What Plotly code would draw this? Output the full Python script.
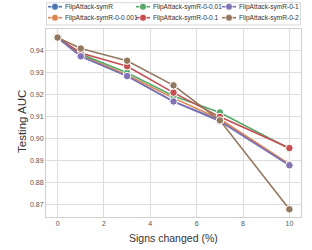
import plotly.graph_objects as go

signs_changed = [0, 1, 3, 5, 7, 10]
series_names = [
    "FlipAttack-symR",
    "FlipAttack-symR-0-0.001",
    "FlipAttack-symR-0-0.01",
    "FlipAttack-symR-0-0.1",
    "FlipAttack-symR-0-1",
    "FlipAttack-symR-0-2",
]
auc_symR = [0.946, 0.9375, 0.9285, 0.917, 0.9085, 0.888]
auc_0_001 = [0.946, 0.938, 0.929, 0.9185, 0.909, 0.8885]
auc_0_01 = [0.946, 0.9385, 0.930, 0.9195, 0.912, 0.8955]
auc_0_1 = [0.946, 0.939, 0.933, 0.921, 0.910, 0.8958]
auc_0_1x = [0.946, 0.9375, 0.9285, 0.917, 0.908, 0.888]
auc_0_2 = [0.946, 0.941, 0.9355, 0.9243, 0.9084, 0.868]
series_values = [auc_symR, auc_0_001, auc_0_01, auc_0_1, auc_0_1x, auc_0_2]
colors = ["#4C72B0", "#DD8452", "#55A868", "#C44E52", "#8172B3", "#937860"]

x_ticks = [0, 2, 4, 6, 8, 10]
y_ticks = [0.87, 0.88, 0.89, 0.90, 0.91, 0.92, 0.93, 0.94]

FONT = "Liberation Sans, Arial, sans-serif"

fig = go.Figure()
for name, vals, col in zip(series_names, series_values, colors):
    fig.add_trace(go.Scatter(
        x=signs_changed, y=vals, name=name, mode="lines+markers",
        line=dict(color=col, width=1.6),
        marker=dict(color=col, size=7.5, line=dict(color="white", width=1)),
        showlegend=False,
    ))

# manual legend (3 columns, column-major like matplotlib)
W, H = 255.0, 188.0
col_sym_px = [9, 97, 183]      # symbol centre, px from plot left
row_up_px = [22.3, 11.3]       # px above plot top
shapes = [dict(type="rect", xref="paper", yref="paper",
               x0=0.5 / W, x1=1 - 0.5 / W,
               y0=1 + 4 / H, y1=1 + 26.3 / H,
               line=dict(color="#d9d9d9", width=1), fillcolor="white", layer="above")]
annotations = []
for i, (name, col) in enumerate(zip(series_names, colors)):
    c, r = i // 2, i % 2
    xc = col_sym_px[c] / W
    yc = 1 + row_up_px[r] / H
    shapes.append(dict(type="line", xref="paper", yref="paper",
                       xsizemode="pixel", ysizemode="pixel", xanchor=xc, yanchor=yc,
                       x0=-7, x1=7, y0=0, y1=0, line=dict(color=col, width=1.6), layer="above"))
    shapes.append(dict(type="circle", xref="paper", yref="paper",
                       xsizemode="pixel", ysizemode="pixel", xanchor=xc, yanchor=yc,
                       x0=-3.5, x1=3.5, y0=-3.5, y1=3.5,
                       fillcolor=col, line=dict(color="white", width=0.8), layer="above"))
    annotations.append(dict(xref="paper", yref="paper", x=xc + 9 / W, y=yc,
                            xanchor="left", yanchor="middle", showarrow=False,
                            text=name, borderpad=0,
                            font=dict(family=FONT, size=6.6, color="#333333")))

# axis titles as annotations for precise placement
annotations.append(dict(xref="paper", yref="paper", x=0.5, y=(217 - 238) / H,
                        xanchor="center", yanchor="middle", showarrow=False,
                        text="Signs changed (%)",
                        font=dict(family=FONT, size=10.5, color="#333333")))
annotations.append(dict(xref="paper", yref="paper", x=(22 - 46) / W, y=(217 - 122) / H,
                        xanchor="center", yanchor="middle", showarrow=False, textangle=-90,
                        text="Testing AUC",
                        font=dict(family=FONT, size=11.5, color="#333333")))

fig.update_layout(
    width=312, height=250,
    margin=dict(l=46, r=11, t=29, b=33, autoexpand=False),
    paper_bgcolor="white", plot_bgcolor="white",
    shapes=shapes, annotations=annotations,
    font=dict(family=FONT, color="#444444"),
)
fig.update_xaxes(
    range=[-0.5, 10.5], tickvals=x_ticks, ticks="", automargin=False,
    tickfont=dict(family=FONT, size=7, color="#555555"),
    showgrid=True, gridcolor="#dddddd", gridwidth=1,
    showline=True, linecolor="#d0d0d0", linewidth=1, mirror=True, zeroline=False,
)
fig.update_yaxes(
    range=[0.8645, 0.9499], tickvals=y_ticks, tickformat=".2f", ticks="", automargin=False,
    tickfont=dict(family=FONT, size=7, color="#555555"),
    showgrid=True, gridcolor="#dddddd", gridwidth=1,
    showline=True, linecolor="#d0d0d0", linewidth=1, mirror=True, zeroline=False,
)
fig.write_html("out.html", config={"displayModeBar": False},
               post_script="document.body.style.margin='0';document.body.style.overflow='hidden';")
